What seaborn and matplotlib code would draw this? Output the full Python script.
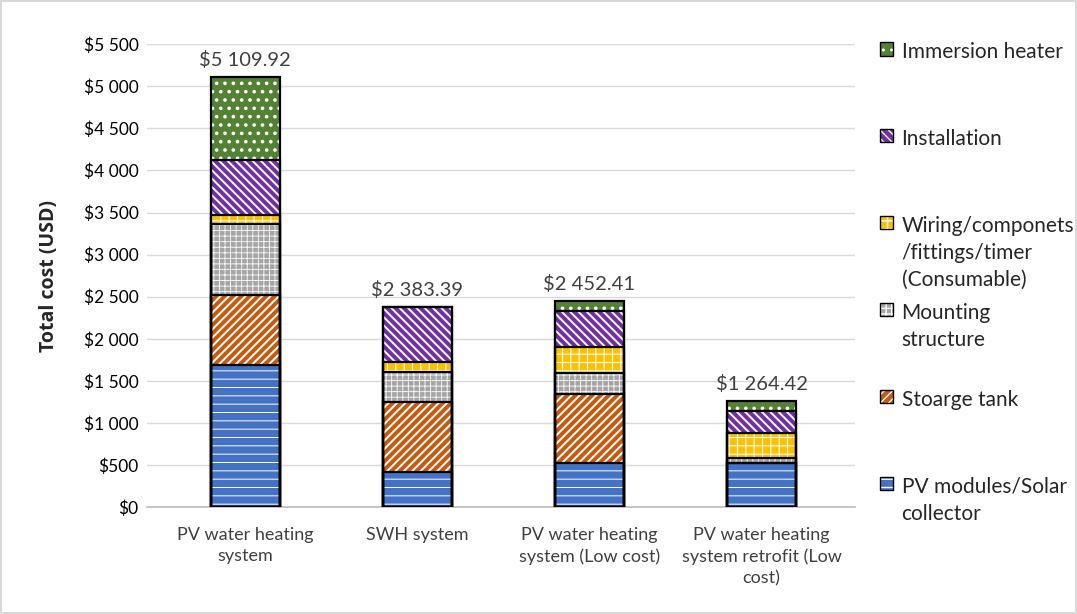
import numpy as np
import matplotlib
matplotlib.use("Agg")
import matplotlib.pyplot as plt
import matplotlib.colors as mcolors
import seaborn as sns
from matplotlib.patches import Patch
from matplotlib.ticker import FuncFormatter

# ===============================
# DATA
# ===============================

systems = [
    "PV water heating\nsystem",
    "SWH system",
    "PV water heating\nsystem (Low cost)",
    "PV water heating\nsystem retrofit (Low\ncost)",
]
totals = [5109.92, 2383.39, 2452.41, 1264.42]

# bottom -> top
components = [
    "PV modules/Solar\ncollector",
    "Stoarge tank",
    "Mounting\nstructure",
    "Wiring/componets\n/fittings/timer\n(Consumable)",
    "Installation",
    "Immersion heater",
]
pv_modules = [1687, 419, 519, 526]
storage_tank = [830, 832, 823, 0]
mounting = [845, 356, 254, 60]
wiring = [105, 112, 301, 297]
installation = [655, 664, 435, 261]
immersion = [988, 0, 120, 120]

colors = ["#4472C4", "#C55A11", "#A5A5A5", "#FFC000", "#7030A0", "#548235"]
hatches = ["--", "////", "+++", "++", "\\\\\\\\", ".."]
hatch_lw = [0.7, 1.4, 0.6, 0.8, 1.4, 1.4]

# ===============================
# STYLE
# ===============================

sns.set_theme(style="white")
plt.rcParams["font.family"] = ["Lato", "DejaVu Sans"]

fig = plt.figure(figsize=(10.77, 6.14), dpi=100)
fig.patch.set_edgecolor("#D9D9D9")
fig.patch.set_linewidth(1.5)
ax = fig.add_axes([0.1365, 0.174, 0.657, 0.754])

series = [pv_modules, storage_tank, mounting, wiring, installation, immersion]
cum = np.cumsum(np.array(series, dtype=float), axis=0)

# fills, drawn from the top layer down so lower layers cover upper ones
for i in range(len(series) - 1, -1, -1):
    plt.rcParams["hatch.linewidth"] = hatch_lw[i]
    sns.barplot(x=systems, y=cum[i], ax=ax, color=colors[i], width=0.4,
                hatch=hatches[i], edgecolor="white", linewidth=0,
                saturation=1, errorbar=None, zorder=2)

# black outlines
for i in range(len(series) - 1, -1, -1):
    sns.barplot(x=systems, y=cum[i], ax=ax, fill=False, width=0.4,
                edgecolor="black", linewidth=1.6, errorbar=None, zorder=3)

for xi, t in enumerate(totals):
    ax.text(xi, t + 90, f"${t:,.2f}".replace(",", " "), ha="center",
            va="bottom", fontsize=14.5, color="#404040")

ax.set_xlim(-0.57, 3.54)
ax.set_ylim(0, 5500)
ax.set_yticks(np.arange(0, 5501, 500))
ax.yaxis.set_major_formatter(FuncFormatter(lambda v, p: f"${v:,.0f}".replace(",", " ")))
ax.grid(axis="y", color="#D9D9D9", linewidth=1, zorder=0)
ax.set_axisbelow(True)
for s in ["left", "right", "top"]:
    ax.spines[s].set_visible(False)
ax.spines["bottom"].set_color("#BFBFBF")
ax.tick_params(axis="y", labelsize=12.5, labelcolor="#000000", length=0, pad=6)
ax.tick_params(axis="x", labelsize=13, labelcolor="#404040", length=0, pad=14)
for t in ax.get_xticklabels():
    t.set_linespacing(1.4)
ax.set_xlabel("")
ax.set_ylabel("Total cost (USD)", fontsize=14, fontweight="bold",
              family=["Open Sans", "DejaVu Sans"], labelpad=18)

# legend: white hatches, black border, all entries padded to 3 lines
white = mcolors.to_rgba("white")
handles = []
for i in range(len(series) - 1, -1, -1):
    plt.rcParams["hatch.linewidth"] = 1.0
    p = Patch(facecolor=colors[i], edgecolor="black", hatch=hatches[i], linewidth=1)
    p._hatch_color = white
    handles.append(p)
labels = []
for lab in components[::-1]:
    labels.append(lab + "\n" * (2 - lab.count("\n")) + " ")
leg = fig.legend(handles, labels, loc="upper left", bbox_to_anchor=(0.8, 0.962),
                 frameon=False, fontsize=15, handlelength=0.62, handleheight=0.62,
                 handletextpad=0.4, labelspacing=0.6)
for t in leg.get_texts():
    t.set_linespacing(1.45)
for box in leg._legend_handle_box.get_children():
    for item in box.get_children():
        item.align = "top"

fig.savefig("out.png", dpi=100, edgecolor=fig.get_edgecolor())
